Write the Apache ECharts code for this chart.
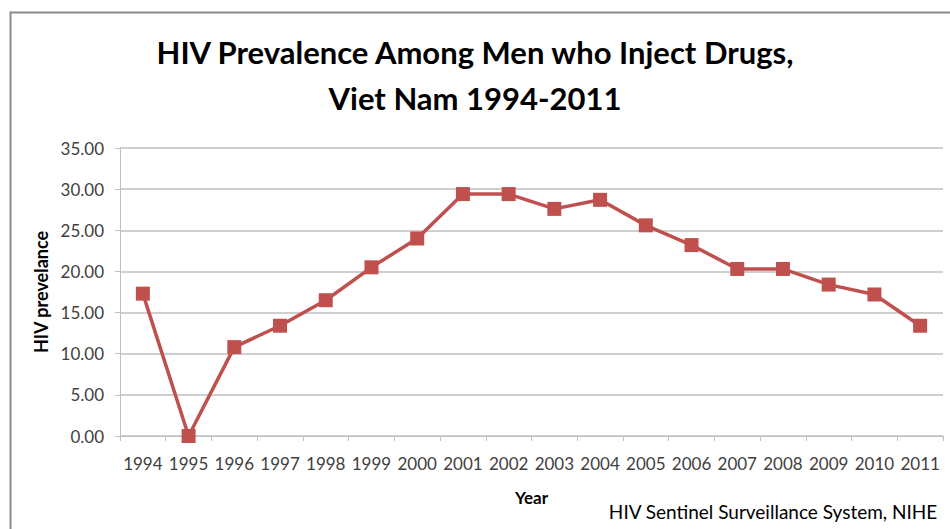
<!DOCTYPE html>
<html>
<head>
<meta charset="utf-8">
<script src="https://cdn.jsdelivr.net/npm/echarts@6/dist/echarts.min.js"></script>
<style>
  html, body { margin: 0; padding: 0; background: #fff; }
  #chart { width: 950px; height: 529px; }
</style>
</head>
<body>
<div id="chart"></div>
<script>
  // 数据
  var years = ['1994', '1995', '1996', '1997', '1998', '1999', '2000', '2001', '2002',
    '2003', '2004', '2005', '2006', '2007', '2008', '2009', '2010', '2011']
  var prevalence = [17.3, 0.0, 10.8, 13.4, 16.5, 20.5, 24.0, 29.4, 29.4,
    27.6, 28.7, 25.6, 23.2, 20.3, 20.3, 18.4, 17.2, 13.4]
  var yTicks = { min: 0, max: 35, step: 5 }

  var font = 'Lato, Carlito, "Open Sans", sans-serif'
  var gridColor = '#BFBFBF'
  var lineColor = '#C0504D'

  var chart = echarts.init(document.getElementById('chart'), null, { renderer: 'svg' })
  var option = {
    animation: false,
    backgroundColor: '#fff',
    title: {
      text: 'HIV Prevalence Among Men who Inject Drugs,\nViet Nam 1994-2011',
      left: 'center',
      top: 29,
      padding: [0, 0, 0, 20],
      textStyle: {
        fontFamily: font,
        fontSize: 31,
        fontWeight: 'bold',
        color: '#000',
        lineHeight: 46,
      },
    },
    graphic: [
      {
        type: 'rect',
        left: 8,
        top: 10,
        shape: { x: 0, y: 0, width: 1000, height: 600 },
        style: { fill: 'none', stroke: '#8C8C8C', lineWidth: 2 },
        silent: true,
      },
      {
        type: 'text',
        right: 12,
        top: 502,
        style: {
          text: 'HIV Sentinel Surveillance System, NIHE',
          fontFamily: font,
          fontSize: 19,
          fill: '#000',
        },
      },
    ],
    grid: { left: 120, right: 7, top: 148, bottom: 93 },
    xAxis: {
      type: 'category',
      data: years,
      boundaryGap: true,
      name: 'Year',
      nameLocation: 'middle',
      nameGap: 53,
      nameTextStyle: { fontFamily: font, fontSize: 17, fontWeight: 'bold', color: '#000' },
      axisLine: { show: true, lineStyle: { color: gridColor, width: 1 } },
      axisTick: { show: true, length: 5, lineStyle: { color: gridColor } },
      axisLabel: { interval: 0, fontFamily: font, fontSize: 17, color: '#404040', margin: 19 },
      splitLine: { show: false },
    },
    yAxis: {
      type: 'value',
      min: yTicks.min,
      max: yTicks.max,
      interval: yTicks.step,
      name: 'HIV prevelance',
      nameLocation: 'middle',
      nameGap: 67,
      nameRotate: 90,
      nameTextStyle: { fontFamily: font, fontSize: 18, fontWeight: 'bold', color: '#000' },
      axisLine: { show: true, lineStyle: { color: gridColor, width: 1 } },
      axisTick: { show: true, length: 5, lineStyle: { color: gridColor } },
      axisLabel: {
        fontFamily: font,
        fontSize: 17,
        color: '#404040',
        margin: 16,
        formatter: function (v) { return v.toFixed(2) },
      },
      splitLine: { show: true, lineStyle: { color: gridColor, width: 1.5 } },
    },
    series: [
      {
        name: 'HIV prevalence',
        type: 'line',
        data: prevalence,
        symbol: 'rect',
        symbolSize: 14,
        lineStyle: { color: lineColor, width: 3.5 },
        itemStyle: { color: lineColor },
      },
    ],
  }
  chart.setOption(option)
</script>
</body>
</html>
